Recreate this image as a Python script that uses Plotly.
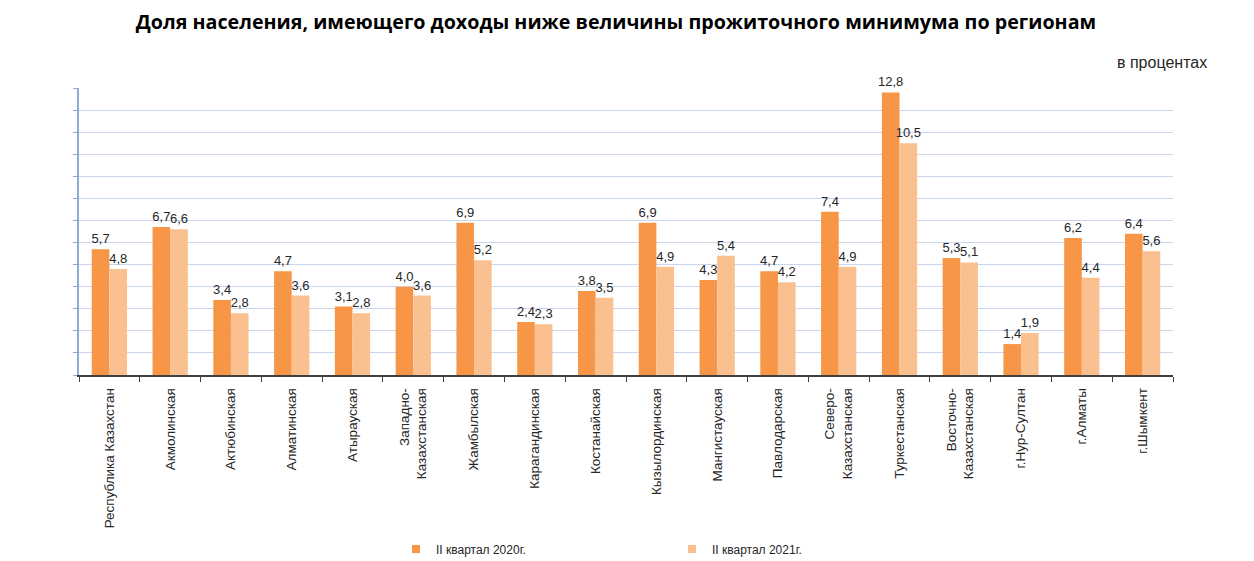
import plotly.graph_objects as go

categories = [
    "Республика Казахстан", "Акмолинская", "Актюбинская", "Алматинская", "Атырауская",
    "Западно-<br>Казахстанская", "Жамбылская", "Карагандинская", "Костанайская",
    "Кызылординская", "Мангистауская", "Павлодарская", "Северо-<br>Казахстанская",
    "Туркестанская", "Восточно-<br>Казахстанская", "г.Нур-Султан", "г.Алматы", "г.Шымкент",
]
values_2020 = [5.7, 6.7, 3.4, 4.7, 3.1, 4.0, 6.9, 2.4, 3.8, 6.9, 4.3, 4.7, 7.4, 12.8, 5.3, 1.4, 6.2, 6.4]
values_2021 = [4.8, 6.6, 2.8, 3.6, 2.8, 3.6, 5.2, 2.3, 3.5, 4.9, 5.4, 4.2, 4.9, 10.5, 5.1, 1.9, 4.4, 5.6]
series_names = ["II квартал 2020г.", "II квартал 2021г."]
colors = ["#F79646", "#FAC090"]

FONT = "Liberation Sans"
OFF = 8  # page body margin of the html page
W, H = 1254 - OFF, 561 - OFF
L, R, T, B = 79 - OFF, 81, 88 - OFF, 186
PW, PH = W - L - R, H - T - B


def px(xs):  # screen x -> paper x
    return (xs - OFF - L) / PW


def py(ys):  # screen y -> paper y
    return (H - B - (ys - OFF)) / PH


fig = go.Figure()
for name, vals, color in zip(series_names, [values_2020, values_2021], colors):
    fig.add_trace(go.Bar(
        x=categories, y=vals, name=name, marker=dict(color=color, line=dict(width=0)),
        texttemplate="%{y:.1f}", textposition="outside", cliponaxis=False,
        constraintext="none", textangle=0,
        textfont=dict(family=FONT, size=13, color="#262626"),
        showlegend=False,
    ))
# legend entries (small square swatches)
for name, color in zip(series_names, colors):
    fig.add_trace(go.Scatter(
        x=[None], y=[None], mode="markers", name=name,
        marker=dict(symbol="square", size=8, color=color), showlegend=True,
    ))

fig.update_layout(
    width=W, height=H,
    margin=dict(l=L, r=R, t=T, b=B, autoexpand=False),
    paper_bgcolor="white", plot_bgcolor="white",
    separators=", ",
    barmode="group", bargap=0.42, bargroupgap=0,
    font=dict(family=FONT, size=12, color="#262626"),
    title=dict(text="<b>Доля населения, имеющего доходы ниже величины прожиточного минимума по регионам</b>",
               x=(616 - OFF) / W, xanchor="center", yref="container", y=1 - 7 / H,
               yanchor="top",
               font=dict(family="Open Sans", size=19.7, color="#000000")),
    showlegend=True,
    legend=dict(orientation="h", x=px(396), xanchor="left",
                y=py(549), yanchor="middle",
                font=dict(family=FONT, size=12, color="#262626"),
                entrywidth=231, itemwidth=30, bgcolor="rgba(0,0,0,0)"),
    annotations=[dict(text="в процентах", xref="paper", yref="paper",
                      x=px(1209), xanchor="right",
                      y=py(62), yanchor="middle", showarrow=False,
                      font=dict(family=FONT, size=16, color="#262626"))],
)
fig.update_xaxes(
    type="category", tickangle=-90, showline=True, linecolor="#404040", linewidth=1.5,
    ticks="outside", tickson="boundaries", ticklen=5, tickcolor="#404040", tickwidth=1,
    tickfont=dict(family=FONT, size=13.5, color="#262626"), showgrid=False,
    automargin=False, ticklabelstandoff=6,
)
fig.update_yaxes(
    range=[0, 13], dtick=1, showticklabels=False, showgrid=True, gridcolor="#C9D6EE",
    gridwidth=1, zeroline=False, showline=True, linecolor="#8EAADB", linewidth=1.5,
    ticks="outside", ticklen=4, tickcolor="#8EAADB", automargin=False,
)

fig.write_html("out.html")
